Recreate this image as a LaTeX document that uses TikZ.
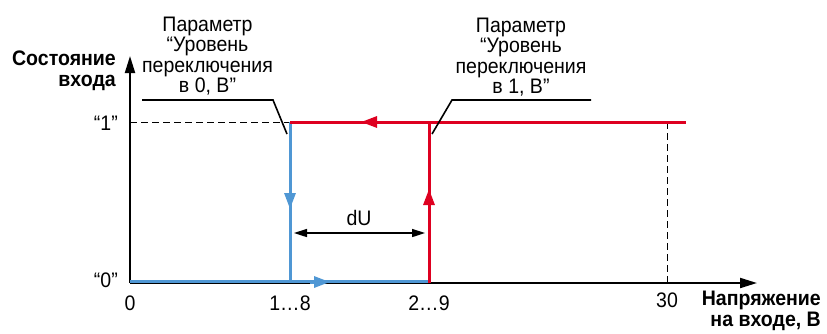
\documentclass[tikz,border=0pt]{standalone}
\usepackage{fontspec}
\setmainfont[FakeStretch=0.93]{Liberation Sans}
\usetikzlibrary{arrows.meta}
\definecolor{myred}{RGB}{222,0,32}
\definecolor{myblue}{RGB}{79,151,212}
\tikzset{
  lbl/.style={inner sep=0pt, font=\fontsize{21}{20.5}\selectfont},
  blbl/.style={inner sep=0pt, font=\fontsize{21}{20.5}\selectfont\bfseries},
  axis/.style={line width=2pt, -{Triangle[length=17pt,width=10pt]}},
  guide/.style={line width=1pt, dash pattern=on 7pt off 4pt},
  leader/.style={line width=1.6pt},
  redl/.style={line width=3pt, myred},
  bluel/.style={line width=3pt, myblue},
  midarrow/.style={-{Triangle[length=16pt,width=11pt]}, line width=3pt},
  dim/.style={line width=1.6pt, {Triangle[length=13pt,width=8pt]}-{Triangle[length=13pt,width=8pt]}}
}
\begin{document}
\begin{tikzpicture}[x=1pt,y=-1pt]
\useasboundingbox (0,0) rectangle (827,333);
% key points
\coordinate (O) at (130,283);
\coordinate (ytop) at (130,56);
\coordinate (xend) at (757,283);
\coordinate (one) at (130,122);
\coordinate (b1) at (290,122);
\coordinate (b0) at (290,281);
\coordinate (r0) at (429,283);
\coordinate (r1) at (429,122);
\coordinate (rend) at (686,122);
\coordinate (t30) at (667,122);
\coordinate (a30) at (667,283);
\coordinate (z0) at (130,281);
\coordinate (z1) at (429,281);
% guides
\draw[guide] (one) -- (b1);
\draw[guide] (t30) -- (a30);
% axes
\draw[axis] (O) -- (ytop);
\draw[axis] (O) -- (xend);
% blue path
\draw[bluel] (z0) -- (z1);
\draw[bluel] (b1) -- (b0);
% red path
\draw[redl] (r0) -- (r1);
\draw[redl] (b1) -- (rend);
% direction arrows
\coordinate (ba1) at (290,190);
\coordinate (ba2) at (290,209);
\draw[midarrow, myblue] (ba1) -- (ba2);
\coordinate (bh1) at (310,282);
\coordinate (bh2) at (330,282);
\draw[midarrow, myblue] (bh1) -- (bh2);
\coordinate (ra1) at (429,210);
\coordinate (ra2) at (429,189);
\draw[midarrow, myred] (ra1) -- (ra2);
\coordinate (rl1) at (385,122);
\coordinate (rl2) at (361,122);
\draw[midarrow, myred] (rl1) -- (rl2);
% dU
\coordinate (d1) at (294,233);
\coordinate (d2) at (425,233);
\draw[dim] (d1) -- (d2);
\node[lbl] (dU) at (359,218) {dU};
% leaders
\coordinate (l0a) at (142,100);
\coordinate (l0b) at (273,100);
\coordinate (l0c) at (287,134);
\draw[leader] (l0a) -- (l0b) -- (l0c);
\coordinate (l1a) at (591,100);
\coordinate (l1b) at (452,100);
\coordinate (l1c) at (432,134);
\draw[leader] (l1a) -- (l1b) -- (l1c);
% annotation texts
\node[lbl, align=center] (p0) at (207.5,56) {Параметр\\“Уровень\\переключения\\в 0, В”};
\node[lbl, align=center] (p1) at (521,57) {Параметр\\“Уровень\\переключения\\в 1, В”};
% axis labels
\node[blbl, align=right, anchor=east] (ylab) at (116,71) {Состояние\\входа};
\node[blbl, align=right, anchor=east] (xlab) at (821,311) {Напряжение\\на входе, В};
% level labels
\node[lbl, anchor=east] (q1) at (118,123) {“1”};
\node[lbl, anchor=east] (q0) at (118,280) {“0”};
% tick labels
\node[lbl] (x0) at (130,303) {0};
\node[lbl] (x18) at (290,303) {1…8};
\node[lbl] (x29) at (429,303) {2…9};
\node[lbl] (x30) at (667,300) {30};
\end{tikzpicture}
\end{document}
